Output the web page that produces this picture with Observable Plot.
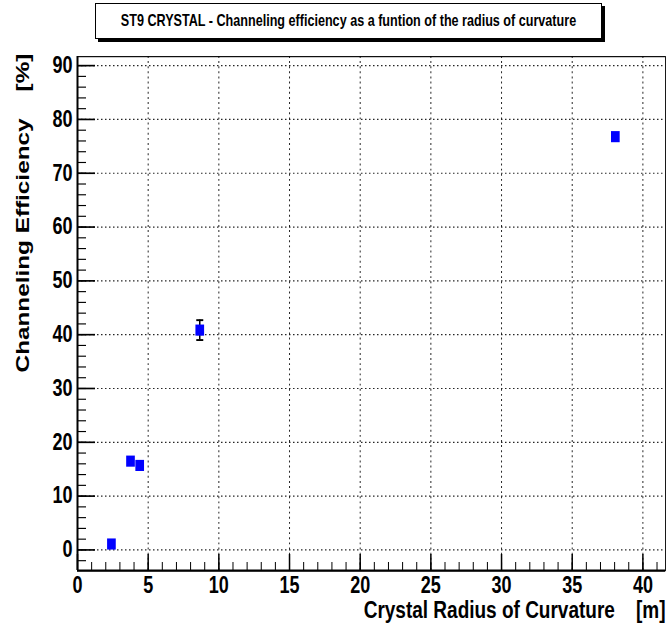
<!DOCTYPE html>
<html>
<head>
<meta charset="utf-8">
<script src="https://cdn.jsdelivr.net/npm/d3@7"></script>
<script src="https://cdn.jsdelivr.net/npm/@observablehq/plot@0.6"></script>
<style>
  body { margin: 0; background: #fff; }
  #chart { width: 667px; height: 624px; background: #fff; }
  #head { height: 50px; position: relative; }
  #title {
    position: absolute; left: 95px; top: 3px; width: 505px; height: 34px;
    border: 1px solid #000; box-shadow: 3px 3px 0 #000; background: #fff;
    display: flex; align-items: center; justify-content: center;
    font: bold 12.6px "Liberation Sans", Arial, sans-serif;
    color: #000;
  }
  #title span { display: inline-block; transform: scaleY(1.28); }
  #chart svg { display: block; }
</style>
</head>
<body>
<div id="chart">
  <div id="head"><div id="title"><span>ST9 CRYSTAL - Channeling efficiency as a funtion of the radius of curvature</span></div></div>
</div>
<script>
// Measured channeling efficiency of the ST9 crystal vs bending radius
const radius     = [2.4, 3.75, 4.4, 8.65, 38.05];   // m
const efficiency = [1.1, 16.5, 15.7, 40.85, 76.8];  // %
const errorBar   = [0, 0, 0, 1.85, 0];              // %

const xTicksMajor = [0, 5, 10, 15, 20, 25, 30, 35, 40];
const yTicksMajor = [0, 10, 20, 30, 40, 50, 60, 70, 80, 90];
const xTicksMinor = d3.range(0, 42, 1);
const yTicksMinor = d3.range(-2, 92, 2);

const xTitle = "Crystal Radius of Curvature\u00a0\u00a0\u00a0\u00a0[m]";
const yTitle = "Channeling Efficiency\u00a0\u00a0\u00a0\u00a0[%]";

const xDomain = [0, 41.6];
const yDomain = [-3.85, 91.67];

const points = radius.map((r, i) => ({x: r, y: efficiency[i], e: errorBar[i]}));
const withErr = points.filter(d => d.e > 0);
const caps = withErr.flatMap(d => [{x: d.x, y: d.y - d.e}, {x: d.x, y: d.y + d.e}]);

// horizontal cap symbol for the error bars
const capSymbol = {
  draw(ctx, size) {
    const w = Math.sqrt(size) / 2;
    ctx.moveTo(-w, 0);
    ctx.lineTo(w, 0);
  }
};

// The canvas is drawn in a compressed coordinate system and stretched
// vertically by S, giving the tall, narrow lettering of the original plot.
const S = 1.28;
const W = 667, H = 574;
const mL = 77, mR = 2, mT = 6 / S, mB = 54 / S;
const Hs = H / S;
const frameW = W - mL - mR, frameH = Hs - mT - mB;
const fontFamily = '"Liberation Sans", Arial, sans-serif';
const dots = {stroke: "#000", strokeOpacity: 0.85, strokeDasharray: "1.5,2.5", strokeWidth: 1};

const chart = Plot.plot({
  width: W, height: Hs,
  marginLeft: mL, marginRight: mR, marginTop: mT, marginBottom: mB,
  style: {fontFamily, fontWeight: "bold", background: "#fff", color: "#000", overflow: "visible"},
  x: {domain: xDomain},
  y: {domain: yDomain},
  marks: [
    Plot.gridX(xTicksMajor.filter(d => d > 0), dots),
    Plot.gridY(yTicksMajor, {...dots, strokeWidth: 0.9}),
    // inward tick marks
    Plot.ruleX(xTicksMinor, {x: d => d, insetTop: frameH - 8 / S, stroke: "#000"}),
    Plot.ruleX(xTicksMajor, {x: d => d, insetTop: frameH - 16 / S, stroke: "#000", strokeWidth: 1.5}),
    Plot.ruleY(yTicksMinor, {y: d => d, insetRight: frameW - 9, stroke: "#000", strokeWidth: 0.9}),
    Plot.ruleY(yTicksMajor, {y: d => d, insetRight: frameW - 18, stroke: "#000", strokeWidth: 1.3}),
    Plot.axisX(xTicksMajor, {tickSize: 0, tickPadding: 5, fontSize: 18, label: null}),
    Plot.axisY(yTicksMajor, {tickSize: 0, tickPadding: 5, fontSize: 18, label: null}),
    Plot.frame({stroke: "#000", strokeWidth: 0.9}),
    Plot.ruleX([xDomain[0]], {stroke: "#000", strokeWidth: 2}),
    Plot.ruleY([yDomain[0]], {stroke: "#000", strokeWidth: 1.6}),
    // error bars
    Plot.ruleX(withErr, {x: "x", y1: d => d.y - d.e, y2: d => d.y + d.e, stroke: "#000", strokeWidth: 1.5}),
    Plot.dot(caps, {x: "x", y: "y", symbol: capSymbol, r: 3.95, stroke: "#000", strokeWidth: 1.5}),
    // data points
    Plot.dot(points, {x: "x", y: "y", symbol: "square", r: 4.9, fill: "#0000ff", stroke: null}),
    // axis titles
    Plot.text([xTitle], {text: d => d, frameAnchor: "bottom-right", textAnchor: "end", lineAnchor: "bottom", dy: 47 / S, fontSize: 19}),
    Plot.text([yTitle], {text: d => d, frameAnchor: "top-left", rotate: -90, textAnchor: "end", lineAnchor: "middle", dx: -55, dy: -3 / S, fontSize: 19})
  ]
});

chart.setAttribute("viewBox", `0 0 ${W} ${Hs}`);
chart.setAttribute("preserveAspectRatio", "none");
chart.setAttribute("width", W);
chart.setAttribute("height", H);
chart.style.width = W + "px";
chart.style.height = H + "px";
chart.style.maxWidth = "none";

document.getElementById("chart").appendChild(chart);
</script>
</body>
</html>
